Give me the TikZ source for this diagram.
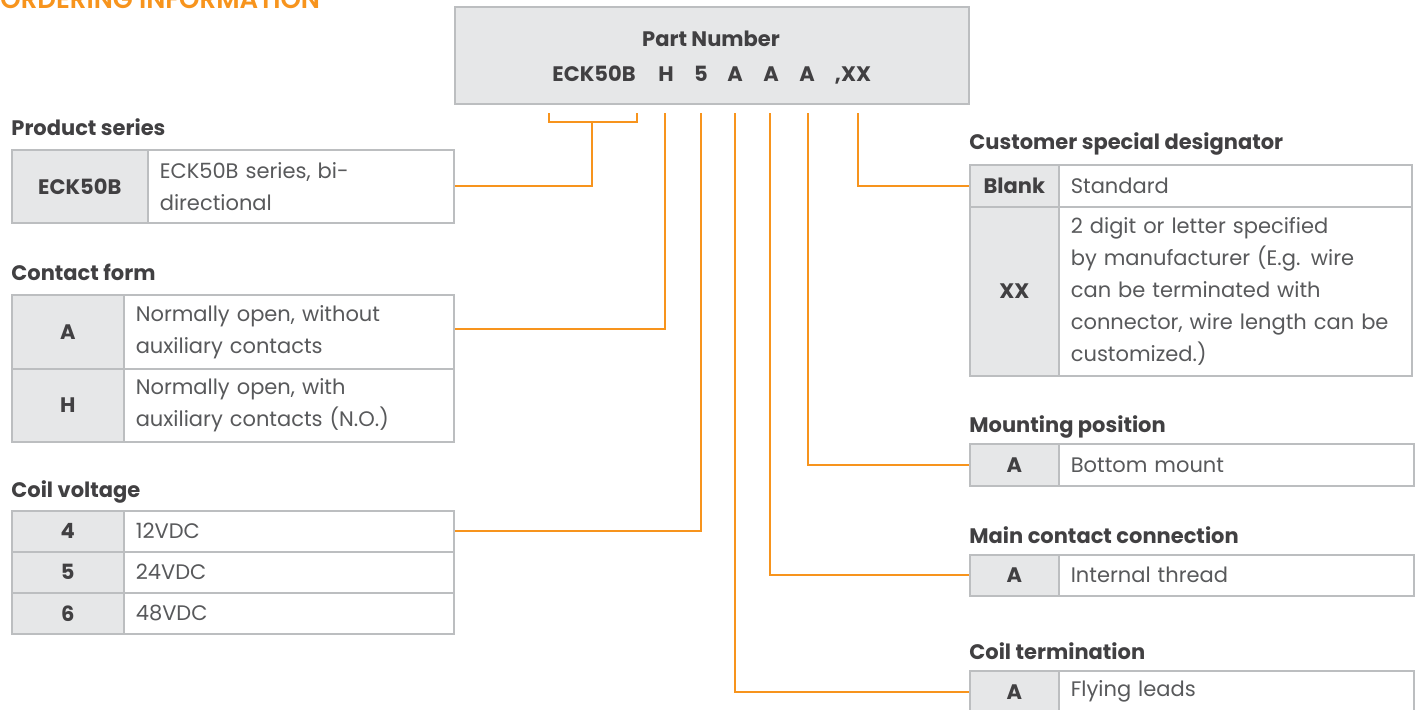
\documentclass[tikz,border=0pt]{standalone}
\usepackage{fontspec}
\setmainfont{Poppins}
\newfontfamily\ordtitlefont{Poppins SemiBold}
\definecolor{ordorange}{HTML}{F7941D}
\definecolor{keyfill}{HTML}{E6E7E8}
\definecolor{cellline}{HTML}{BCBEC0}
\definecolor{headtext}{HTML}{414042}
\definecolor{bodytext}{HTML}{58595B}
\tikzset{%
  heading/.style={anchor=base west, inner sep=0pt, text=headtext,
                  font=\fontsize{10.5}{16}\selectfont\bfseries},
  keycell/.style={anchor=north west, draw=cellline, fill=keyfill,
                  line width=0.8pt, inner sep=0pt, minimum width=#1,
                  text=headtext, font=\fontsize{10.5}{16}\selectfont\bfseries},
  valcell/.style={anchor=north west, draw=cellline, fill=white,
                  line width=0.8pt, inner xsep=6pt, inner ysep=0pt,
                  text width=#1, align=left, text=bodytext,
                  font=\fontsize{10.5}{16}\selectfont},
  partno/.style={anchor=base, inner sep=0pt, text=headtext,
                 font=\fontsize{10.5}{16}\selectfont\bfseries},
  wire/.style={draw=ordorange, line width=1pt}
}
\begin{document}
\begin{tikzpicture}[x=0.5pt,y=-0.5pt]

  \useasboundingbox (0,0) rectangle (1416,709);

  % title
  \node[anchor=base west, inner sep=0pt, text=ordorange,
        font=\fontsize{13}{15}\selectfont\ordtitlefont] (hOrd) at (0,8) {ORDERING INFORMATION};

  % part number box
  \node[draw=cellline, fill=keyfill, line width=0.8pt, anchor=north west,
        minimum width=257pt, minimum height=48.5pt] (pBox) at (454,6) {};
  \node[partno] (pTitle) at (711,46) {Part Number};
  \node[partno] (pECK) at (594,81) {ECK50B};
  \node[partno] (pH)   at (666,81) {H};
  \node[partno] (p5)   at (701,81) {5};
  \node[partno] (pA1)  at (735,81) {A};
  \node[partno] (pA2)  at (771,81) {A};
  \node[partno] (pA3)  at (807,81) {A};
  \node[partno] (pXX)  at (853,81) {,XX};

  % product series
  \node[heading] (hPS) at (11,135) {Product series};
  \node[keycell=68pt, minimum height=36.5pt] (psK) at (11,149) {ECK50B};
  \node[valcell=141pt, minimum height=36.5pt] (psV) at (147,149)
    {ECK50B series, bi-\\directional};

  % contact form
  \node[heading] (hCF) at (11,280) {Contact form};
  \node[keycell=56pt, minimum height=37pt] (cfKA) at (11,294) {A};
  \node[valcell=153pt, minimum height=37pt] (cfVA) at (123,294)
    {Normally open, without\\auxiliary contacts};
  \node[keycell=56pt, minimum height=36.5pt] (cfKH) at (11,368) {H};
  \node[valcell=153pt, minimum height=36.5pt] (cfVH) at (123,368)
    {Normally open, with\\auxiliary contacts (N.O.)};

  % coil voltage
  \node[heading] (hCV) at (11,497) {Coil voltage};
  \node[keycell=56pt, minimum height=20.5pt] (cvK4) at (11,510) {4};
  \node[valcell=153pt, minimum height=20.5pt] (cvV4) at (123,510) {12VDC};
  \node[keycell=56pt, minimum height=20.5pt] (cvK5) at (11,551) {5};
  \node[valcell=153pt, minimum height=20.5pt] (cvV5) at (123,551) {24VDC};
  \node[keycell=56pt, minimum height=20.5pt] (cvK6) at (11,592) {6};
  \node[valcell=153pt, minimum height=20.5pt] (cvV6) at (123,592) {48VDC};

  % customer special designator
  \node[heading] (hCS) at (969,149) {Customer special designator};
  \node[keycell=44.5pt, minimum height=21pt] (csKB) at (969,164) {Blank};
  \node[valcell=164.5pt, minimum height=21pt] (csVB) at (1058,164) {Standard};
  \node[keycell=44.5pt, minimum height=84.5pt] (csKX) at (969,206) {XX};
  \node[valcell=164.5pt, minimum height=84.5pt] (csVX) at (1058,206)
    {2 digit or letter specified\\by manufacturer (E.g. wire\\can be terminated with\\connector, wire length can be\\customized.)};

  % mounting position
  \node[heading] (hMP) at (969,432) {Mounting position};
  \node[keycell=44.5pt, minimum height=21pt] (mpK) at (969,443) {A};
  \node[valcell=165.5pt, minimum height=21pt] (mpV) at (1058,443) {Bottom mount};

  % main contact connection
  \node[heading] (hMC) at (969,543) {Main contact connection};
  \node[keycell=44.5pt, minimum height=20.5pt] (mcK) at (969,554) {A};
  \node[valcell=165.5pt, minimum height=20.5pt] (mcV) at (1058,554) {Internal thread};

  % coil termination
  \node[heading] (hCT) at (969,659) {Coil termination};
  \node[keycell=44.5pt, minimum height=21pt] (ctK) at (969,670) {A};
  \node[valcell=165.5pt, minimum height=21pt] (ctV) at (1058,670) {Flying leads};

  % leader lines
  \coordinate (bL) at (549,113);
  \coordinate (bR) at (637,113);
  \coordinate (bM) at (592,122);
  \coordinate (sH) at (665,113);
  \coordinate (s5) at (701,113);
  \coordinate (sA1) at (735,113);
  \coordinate (sA2) at (770,113);
  \coordinate (sA3) at (808,113);
  \coordinate (sXX) at (858,113);

  \draw[wire] (bL) |- (bM) -| (bR);
  \draw[wire] (bM) |- (psV.east);
  \draw[wire] (sH) |- ([yshift=1.5pt]cfVA.east);
  \draw[wire] (s5) |- (cvV4.east);
  \draw[wire] (sA1) |- (ctK.west);
  \draw[wire] (sA2) |- (mcK.west);
  \draw[wire] (sA3) |- (mpK.west);
  \draw[wire] (sXX) |- (csKB.west);

\end{tikzpicture}
\end{document}
